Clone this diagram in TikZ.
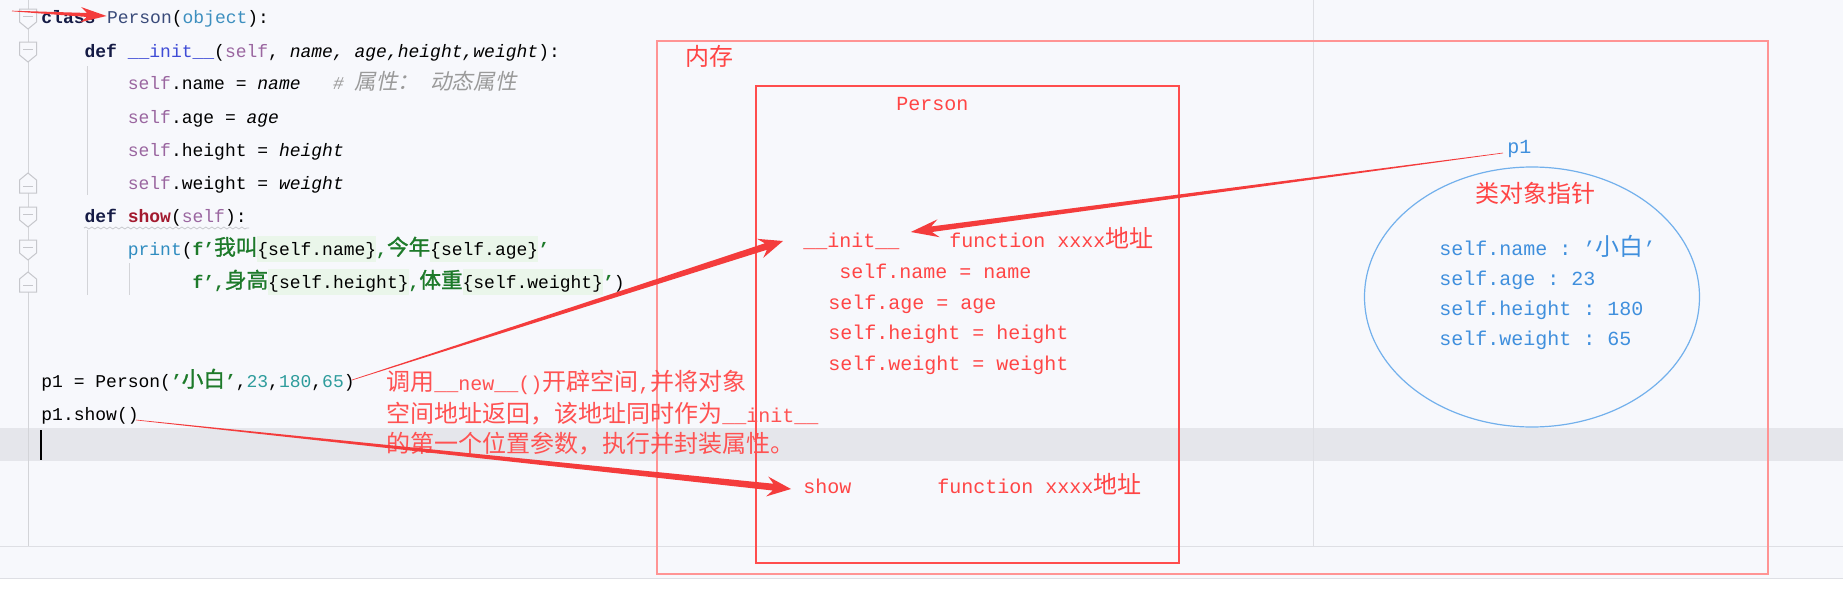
\documentclass[tikz,border=0pt]{standalone}
\usepackage{fontspec}
\setmonofont{Liberation Mono}
\newfontfamily\cjk{Noto Sans CJK SC}[Scale=1.2,BoldFont={Noto Sans CJK SC},BoldFeatures={FakeBold=1.2}]
\newfontfamily\cjkslant{Noto Sans CJK SC}[Scale=1.2,FakeSlant=0.2]
\usepackage{xcolor}
\usetikzlibrary{positioning,calc,shapes.geometric,decorations.pathmorphing}

\definecolor{bgcol}{HTML}{F7F8FC}
\definecolor{bandgray}{HTML}{E5E6EB}
\definecolor{sepgray}{HTML}{DEDFE4}
\definecolor{gutgray}{HTML}{C6C7CC}
\definecolor{guidegray}{HTML}{D3D4D8}
\definecolor{kwcol}{HTML}{151B45}
\definecolor{clscol}{HTML}{3A4B7A}
\definecolor{bltcol}{HTML}{3D8FBF}
\definecolor{magcol}{HTML}{3F4CD6}
\definecolor{selfcol}{HTML}{9A66A0}
\definecolor{cmtcol}{HTML}{9A9A9A}
\definecolor{fncol}{HTML}{A31A2F}
\definecolor{prtcol}{HTML}{2F8CC0}
\definecolor{strcol}{HTML}{1D7A2A}
\definecolor{numcol}{HTML}{2E9C9C}
\definecolor{fbg}{HTML}{EAF6EA}
\definecolor{memred}{HTML}{FF4545}
\definecolor{expred}{HTML}{FF5252}
\definecolor{boxred}{HTML}{FF4D4D}
\definecolor{outred}{HTML}{FF9494}
\definecolor{objblue}{HTML}{3F8FDD}
\definecolor{ellblue}{HTML}{72B0EC}
\definecolor{arrowred}{HTML}{F43C3C}

\newcommand\codefont{\fontsize{9}{11}\selectfont\ttfamily}
\newcommand\memfont{\fontsize{10}{12}\selectfont\ttfamily}
% green box behind the f-string fields
\newcommand\fx[1]{{\setlength\fboxsep{0pt}\colorbox{fbg}{\rule[-3.5pt]{0pt}{13pt}\mdseries\color{black}#1}}}
% tapered arrow: tail, tip, shaft half width, head half width, head length
\newcommand\tarrow[5]{%
  \coordinate (ta-s) at ($(#2)!#5*0.75!(#1)$);
  \coordinate (ta-b) at ($(#2)!#5!(#1)$);
  \fill[arrowred] ($(#1)!0.15pt!90:(#2)$) -- ($(ta-s)!#3!90:(#2)$) -- ($(ta-b)!#4!90:(#2)$) -- (#2)
    -- ($(ta-b)!#4!-90:(#2)$) -- ($(ta-s)!#3!-90:(#2)$) -- ($(#1)!0.15pt!-90:(#2)$) -- cycle;}

\tikzset{
  folddown/.pic={\draw[draw=gutgray,fill=bgcol,line width=0.5pt] (-8.5,-10) -- (8.5,-10) -- (8.5,3) -- (0,10) -- (-8.5,3) -- cycle;
    \draw[gutgray,line width=0.5pt] (-5,-3) -- (5,-3);},
  foldup/.pic={\draw[draw=gutgray,fill=bgcol,line width=0.5pt] (-8.5,10) -- (8.5,10) -- (8.5,-3) -- (0,-10) -- (-8.5,-3) -- cycle;
    \draw[gutgray,line width=0.5pt] (-5,3) -- (5,3);}
}

\begin{document}
\begin{tikzpicture}[x=0.5pt,y=-0.5pt,
  code/.style={anchor=west,inner sep=0pt,text height=7pt,text depth=2pt,font=\codefont},
  memtext/.style={anchor=west,inner sep=0pt,text height=7.5pt,text depth=2.5pt,font=\memfont,text=memred},
  objtext/.style={memtext,text=objblue},
  guide/.style={guidegray,line width=0.5pt}]
\useasboundingbox (0,0) rectangle (1843,594);

% editor background
\fill[bgcol] (0,0) rectangle (1843,578);
\fill[white] (0,578) rectangle (1843,594);
\fill[bandgray] (0,428) rectangle (1843,461);
\draw[sepgray] (0,578) -- (1843,578);
\draw[sepgray] (0,546) -- (1843,546);
\draw[sepgray] (1313,0) -- (1313,546);
\draw[guide] (28,0) -- (28,546);
\draw[guide] (87,66) -- (87,195);
\draw[guide] (87,230) -- (87,295);
\draw[guide] (129,263) -- (129,295);
\pic at (28,19) {folddown};
\pic at (28,52) {folddown};
\pic at (28,183) {foldup};
\pic at (28,217) {folddown};
\pic at (28,250) {folddown};
\pic at (28,282) {foldup};

% code
\node[code] (kwclass) at (41,19) {\bfseries\color{kwcol}class};
\node[code,right=5.4pt of kwclass] (clsname) {\color{clscol}Person\color{black}(\color{bltcol}object\color{black}):};
\node[code] (initdef) at (84.2,52) {{\bfseries\color{kwcol}def} {\color{magcol}\_\_init\_\_}(\color{selfcol}self\color{black}, \itshape name, age,height,weight\upshape):};
\node[code] (attrname) at (127.4,85) {{\color{selfcol}self}.name = {\itshape name}\ \ \ {\color{cmtcol}\itshape\#\ {\cjkslant 属性：}\ {\cjkslant 动态属性}}};
\node[code] (attrage) at (127.4,118) {{\color{selfcol}self}.age = {\itshape age}};
\node[code] (attrheight) at (127.4,151) {{\color{selfcol}self}.height = {\itshape height}};
\node[code] (attrweight) at (127.4,184) {{\color{selfcol}self}.weight = {\itshape weight}};
\node[code] (showdef) at (84.2,217) {{\bfseries\color{kwcol}def} {\bfseries\color{fncol}show}(\color{selfcol}self\color{black}):};
\draw[gutgray,decorate,decoration={snake,amplitude=0.5pt,segment length=3pt}] (84,228) -- (249,228);
\node[code] (printa) at (127.4,250) {{\color{prtcol}print}(\bfseries\color{strcol}f’{\cjk 我叫}\fx{\{self.name\}},{\cjk 今年}\fx{\{self.age\}}’};
\node[code] (printb) at (192.2,283) {\bfseries\color{strcol}f’,{\cjk 身高}\fx{\{self.height\}},{\cjk 体重}\fx{\{self.weight\}}’\mdseries\color{black})};
\node[code] (pcall) at (41,382) {p1 = Person(\textbf{\color{strcol}’{\cjk 小白}’},{\color{numcol}23},{\color{numcol}180},{\color{numcol}65})};
\node[code] (pshow) at (41,415) {p1.show()};
\draw[black,line width=0.8pt] (41,430) -- (41,460);

% memory
\draw[outred,line width=0.9pt] (657,41) rectangle (1768,574);
\draw[boxred,line width=0.7pt] (756,86) rectangle (1179,563);
\node[memtext] (memlabel) at (685,60) {\cjk 内存};
\node[memtext] (clslabel) at (896,105) {Person};
\node[memtext] (initkey) at (803,242) {\_\_init\_\_};
\node[memtext] (initaddr) at (949,242) {function xxxx{\cjk 地址}};
\node[memtext] (setname) at (839,273) {self.name = name};
\node[memtext] (setage) at (828,304) {self.age = age};
\node[memtext] (setheight) at (828,334) {self.height = height};
\node[memtext] (setweight) at (828,365) {self.weight = weight};
\node[memtext] (showkey) at (803,488) {show};
\node[memtext] (showaddr) at (937,488) {function xxxx{\cjk 地址}};

\node[memtext,text=expred] (expl1) at (386,385) {{\cjk 调用}\_\_new\_\_(){\cjk 开辟空间},{\cjk 并将对象}};
\node[memtext,text=expred] (expl2) at (386,417) {{\cjk 空间地址返回，该地址同时作为}\_\_init\_\_};
\node[memtext,text=expred] (expl3) at (386,447) {\cjk 的第一个位置参数，执行并封装属性。};

% instance object
\node[ellipse,draw=ellblue,line width=0.6pt,minimum width=167.5pt,minimum height=130pt,inner sep=0pt] (objell) at (1532,297) {};
\node[objtext] (pone) at (1507,148) {p1};
\node[memtext] (objtitle) at (1475,197) {\cjk 类对象指针};
\node[objtext] (objname) at (1439,250) {self.name : ’{\cjk 小白}’};
\node[objtext] (objage) at (1439,280) {self.age : 23};
\node[objtext] (objheight) at (1439,310) {self.height : 180};
\node[objtext] (objweight) at (1439,340) {self.weight : 65};

% arrows
\coordinate (tailA) at (12,11);
\coordinate (tipA) at ($(clsname.west)+(0,-3)$);
\coordinate (tailB) at ($(pcall.east)+(-3,-2)$);
\coordinate (tipB) at ($(initkey.west)+(-20,-1)$);
\coordinate (tailC) at ($(pshow.east)+(-3,5)$);
\coordinate (tipC) at ($(showkey.west)+(-12,1)$);
\coordinate (tailD) at ($(pone.west)+(-4,5)$);
\coordinate (tipD) at ($(initkey.east)+(11,-10)$);
\tarrow{tailA}{tipA}{1pt}{3.8pt}{13pt}
\tarrow{tailB}{tipB}{1.7pt}{5pt}{12pt}
\tarrow{tailC}{tipC}{1.7pt}{5pt}{12pt}
\tarrow{tailD}{tipD}{1.4pt}{4.5pt}{14pt}
\end{tikzpicture}
\end{document}
